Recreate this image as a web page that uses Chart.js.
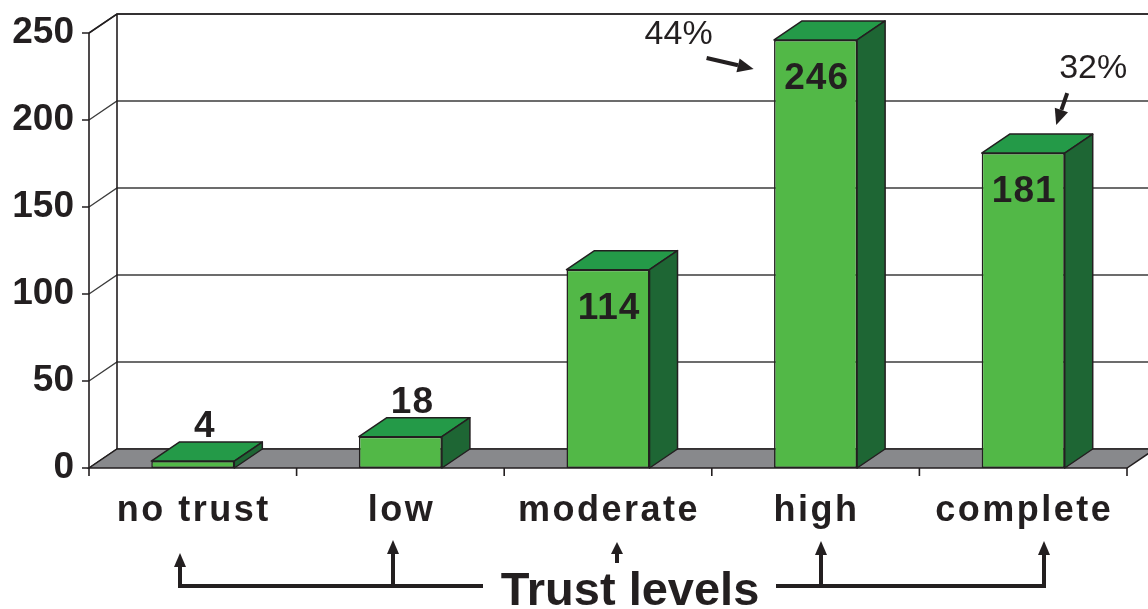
<!DOCTYPE html>
<html>
<head>
<meta charset="utf-8">
<script src="https://cdn.jsdelivr.net/npm/chart.js@4.4.1/dist/chart.umd.min.js"></script>
<style>
  html, body { margin: 0; padding: 0; background: #ffffff; }
  #wrap { width: 1148px; height: 609px; position: relative; }
</style>
</head>
<body>
<div id="wrap"><canvas id="c"></canvas></div>
<script>
// Survey answers: how much respondents trust, by level
const categories = ['no trust', 'low', 'moderate', 'high', 'complete'];
const respondents = [4, 18, 114, 246, 181];
const yTickValues = [0, 50, 100, 150, 200, 250];
// levels that get a share-of-total callout
const calloutCategories = ['high', 'complete'];
const axisTitle = 'Trust levels';

const INK = '#231f20';
const FRONT = '#52b847';
const TOP = '#249a48';
const SIDE = '#1e6634';
const FLOOR = '#88898c';
const DX = 28, DY = -19;           // depth offset of the 3D box
const FONT = '"Liberation Sans", Arial, Helvetica, sans-serif';

function arrow(ctx, x1, y1, x2, y2, lw, headLen, headW) {
  const a = Math.atan2(y2 - y1, x2 - x1);
  const bx = x2 - headLen * Math.cos(a), by = y2 - headLen * Math.sin(a);
  ctx.lineWidth = lw;
  ctx.beginPath();
  ctx.moveTo(x1, y1);
  ctx.lineTo(bx, by);
  ctx.stroke();
  ctx.beginPath();
  ctx.moveTo(x2, y2);
  ctx.lineTo(bx + headW / 2 * Math.sin(a), by - headW / 2 * Math.cos(a));
  ctx.lineTo(bx - headW / 2 * Math.sin(a), by + headW / 2 * Math.cos(a));
  ctx.closePath();
  ctx.fill();
}

const box3d = {
  id: 'box3d',
  beforeDatasetsDraw(chart) {
    const { ctx, chartArea: { left, right, bottom }, scales: { x, y } } = chart;
    const yTop = y.getPixelForValue(yTickValues[yTickValues.length - 1]);
    ctx.save();
    // back wall and side wall grid
    ctx.strokeStyle = '#3c3c3c';
    ctx.lineWidth = 1.3;
    yTickValues.forEach(v => {
      const yf = y.getPixelForValue(v);
      ctx.beginPath();
      ctx.moveTo(left, yf);
      ctx.lineTo(left + DX, yf + DY);
      ctx.lineTo(chart.width, yf + DY);
      ctx.stroke();
    });
    ctx.strokeStyle = INK;
    ctx.lineWidth = 1.6;
    ctx.beginPath();
    ctx.moveTo(left + DX, yTop + DY);
    ctx.lineTo(left + DX, bottom + DY);
    ctx.moveTo(left, yTop);
    ctx.lineTo(left + DX, yTop + DY);
    ctx.lineTo(chart.width, yTop + DY);
    ctx.stroke();

    // floor
    ctx.beginPath();
    ctx.moveTo(left, bottom);
    ctx.lineTo(right, bottom);
    ctx.lineTo(right + DX, bottom + DY);
    ctx.lineTo(left + DX, bottom + DY);
    ctx.closePath();
    ctx.fillStyle = FLOOR;
    ctx.fill();
    ctx.strokeStyle = INK;
    ctx.lineWidth = 1.5;
    ctx.stroke();

    // front value axis with tick marks
    ctx.lineWidth = 1.6;
    ctx.beginPath();
    ctx.moveTo(left, yTop);
    ctx.lineTo(left, bottom);
    yTickValues.forEach(v => {
      const yf = y.getPixelForValue(v);
      ctx.moveTo(left - 7, yf);
      ctx.lineTo(left, yf);
    });
    ctx.stroke();

    // category boundary ticks
    const step = x.getPixelForValue(1) - x.getPixelForValue(0);
    ctx.beginPath();
    for (let i = 0; i <= categories.length; i++) {
      const xb = x.getPixelForValue(0) - step / 2 + i * step;
      ctx.moveTo(xb, bottom);
      ctx.lineTo(xb, bottom + 8);
    }
    ctx.stroke();
    ctx.restore();
  },
  afterDatasetsDraw(chart) {
    const { ctx, chartArea: { bottom }, scales: { x, y } } = chart;
    const meta = chart.getDatasetMeta(0);
    ctx.save();
    ctx.strokeStyle = INK;
    ctx.lineWidth = 1.5;
    ctx.lineJoin = 'round';
    meta.data.forEach(bar => {
      const { x: cx, y: top, base, width } = bar.getProps(['x', 'y', 'base', 'width'], true);
      const l = cx - width / 2, r = cx + width / 2;
      // top face
      ctx.beginPath();
      ctx.moveTo(l, top);
      ctx.lineTo(r, top);
      ctx.lineTo(r + DX, top + DY);
      ctx.lineTo(l + DX, top + DY);
      ctx.closePath();
      ctx.fillStyle = TOP;
      ctx.fill();
      ctx.stroke();
      // side face
      ctx.beginPath();
      ctx.moveTo(r, top);
      ctx.lineTo(r + DX, top + DY);
      ctx.lineTo(r + DX, base + DY);
      ctx.lineTo(r, base);
      ctx.closePath();
      ctx.fillStyle = SIDE;
      ctx.fill();
      ctx.stroke();
    });

    // value labels
    ctx.fillStyle = INK;
    ctx.textAlign = 'center';
    ctx.textBaseline = 'alphabetic';
    ctx.font = 'bold 37px ' + FONT;
    ctx.letterSpacing = '1px';
    meta.data.forEach((bar, i) => {
      const { x: cx, y: top, base } = bar.getProps(['x', 'y', 'base'], true);
      const v = respondents[i];
      if (base - top > 70) {
        ctx.fillText(String(v), cx + 1, top + 49);
      } else {
        ctx.fillText(String(v), cx + 12, top + DY - 5);
      }
    });

    // share-of-total callouts
    const total = respondents.reduce((a, b) => a + b, 0);
    ctx.font = '34px ' + FONT;
    ctx.letterSpacing = '0px';
    ctx.strokeStyle = INK;
    calloutCategories.forEach((cat, k) => {
      const i = categories.indexOf(cat);
      const cx = x.getPixelForValue(i);
      const top = y.getPixelForValue(respondents[i]);
      const txt = Math.round(respondents[i] / total * 100) + '%';
      if (k === 0) {
        ctx.fillText(txt, cx - 137, top + 4);
        arrow(ctx, cx - 109, top + 18, cx - 62, top + 29, 4, 16, 14);
      } else {
        ctx.fillText(txt, cx + 70, top - 75);
        arrow(ctx, cx + 44, top - 60, cx + 33, top - 28, 4, 16, 14);
      }
    });

    // category labels
    ctx.font = 'bold 36px ' + FONT;
    ctx.letterSpacing = '2.5px';
    categories.forEach((c, i) => {
      ctx.fillText(c, x.getPixelForValue(i) + 1, bottom + 53);
    });
    ctx.letterSpacing = '0px';

    // axis title with bracket of arrows pointing at the levels
    ctx.font = 'bold 47px ' + FONT;
    ctx.fillText(axisTitle, 630, 605);
    ctx.lineWidth = 4;
    ctx.lineCap = 'butt';
    ctx.beginPath();
    ctx.moveTo(180, 586); ctx.lineTo(483, 586);
    ctx.moveTo(776, 586); ctx.lineTo(1046, 586);
    ctx.stroke();
    arrow(ctx, 180, 588, 180, 553, 4, 14, 12);
    arrow(ctx, 393, 586, 393, 540, 4, 14, 12);
    arrow(ctx, 617, 563, 617, 542, 4, 12, 12);
    arrow(ctx, 821, 586, 821, 541, 4, 14, 12);
    arrow(ctx, 1044, 588, 1044, 541, 4, 14, 12);
    ctx.restore();
  }
};

new Chart(document.getElementById('c'), {
  type: 'bar',
  data: {
    labels: categories,
    datasets: [{
      data: respondents,
      backgroundColor: FRONT,
      borderColor: INK,
      borderWidth: 1.5,
      borderSkipped: false,
      categoryPercentage: 1,
      barPercentage: 0.4
    }]
  },
  options: {
    responsive: true,
    maintainAspectRatio: false,
    animation: false,
    devicePixelRatio: 1,
    layout: { padding: { top: 33, right: 21, left: 0, bottom: 0 } },
    plugins: { legend: { display: false }, tooltip: { enabled: false } },
    scales: {
      x: {
        grid: { display: false, drawTicks: false },
        border: { display: false },
        ticks: { display: false },
        afterFit(scale) { scale.height = 141; }
      },
      y: {
        min: 0,
        max: 250,
        grid: { display: false, drawTicks: false },
        border: { display: false },
        afterBuildTicks(scale) { scale.ticks = yTickValues.map(v => ({ value: v })); },
        afterFit(scale) { scale.width = 89; },
        ticks: {
          padding: 15,
          color: INK,
          font: { family: FONT, size: 37, weight: 'bold', lineHeight: 0.8 }
        }
      }
    }
  },
  plugins: [box3d]
});
</script>
</body>
</html>
